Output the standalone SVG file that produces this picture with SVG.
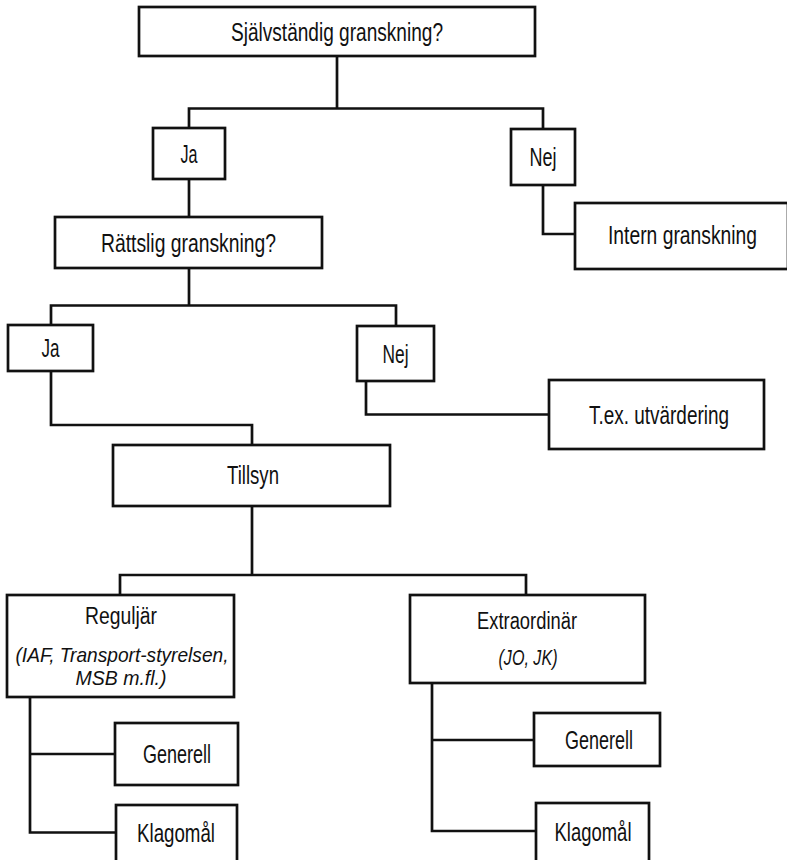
<svg xmlns="http://www.w3.org/2000/svg" width="787" height="860" viewBox="0 0 787 860">
<style>
.box{fill:#fff;stroke:#111;stroke-width:2.7}
.wire{fill:none;stroke:#111;stroke-width:2.7;stroke-linejoin:miter;stroke-linecap:square}
text{font-family:"Liberation Sans",Arial,sans-serif;font-size:26px;fill:#111;text-anchor:middle}
.sm{font-size:23px}
.it{font-style:italic;font-size:21px}
</style>
<rect width="787" height="860" fill="#fff"/>
<g id="connectors">
<path class="wire" d="M337,56 V108.5 M189,108.5 H543 M189,108.5 V128 M543,108.5 V129"/>
<path class="wire" d="M189,179 V217"/>
<path class="wire" d="M543,185 V234 H575"/>
<path class="wire" d="M189,268 V305.5 M51,305.5 H396 M51,305.5 V325 M396,305.5 V326"/>
<path class="wire" d="M51,371 V425 H252 V445"/>
<path class="wire" d="M366,381 V414.5 H549"/>
<path class="wire" d="M252,506 V575 M120,575 H526 M120,575 V595 M526,575 V595"/>
<path class="wire" d="M30,697 V832.5 M30,754 H115 M30,832.5 H116"/>
<path class="wire" d="M432,683 V831 M432,740 H534 M432,831 H536"/>
</g>
<g id="n-sjalvstandig">
<rect class="box" x="139" y="7" width="396" height="49"/>
<text x="337" y="40.5" textLength="212" lengthAdjust="spacingAndGlyphs">Självständig granskning?</text>
</g>
<g id="n-ja1">
<rect class="box" x="153" y="128" width="72" height="51"/>
<text x="189" y="162.8" textLength="17" lengthAdjust="spacingAndGlyphs">Ja</text>
</g>
<g id="n-nej1">
<rect class="box" x="511" y="129" width="64" height="56"/>
<text x="543" y="166.3" textLength="27" lengthAdjust="spacingAndGlyphs">Nej</text>
</g>
<g id="n-rattslig">
<rect class="box" x="55" y="217" width="267" height="51"/>
<text x="188.5" y="251.8" textLength="175" lengthAdjust="spacingAndGlyphs">Rättslig granskning?</text>
</g>
<g id="n-intern">
<rect class="box" x="575" y="203" width="213" height="66"/>
<text x="682.5" y="243.5" textLength="149" lengthAdjust="spacingAndGlyphs">Intern granskning</text>
</g>
<g id="n-ja2">
<rect class="box" x="8" y="325" width="85" height="46"/>
<text x="50.5" y="357.3" textLength="18" lengthAdjust="spacingAndGlyphs">Ja</text>
</g>
<g id="n-nej2">
<rect class="box" x="357" y="326" width="77" height="55"/>
<text x="395.5" y="362.8" textLength="26" lengthAdjust="spacingAndGlyphs">Nej</text>
</g>
<g id="n-tex">
<rect class="box" x="549" y="380" width="215" height="69"/>
<text x="659" y="423.8" textLength="140" lengthAdjust="spacingAndGlyphs">T.ex. utvärdering</text>
</g>
<g id="n-tillsyn">
<rect class="box" x="113" y="445" width="277" height="61"/>
<text x="253" y="484.3" textLength="52" lengthAdjust="spacingAndGlyphs">Tillsyn</text>
</g>
<g id="n-reguljar">
<rect class="box" x="7" y="595" width="227" height="102"/>
<text class="sm" x="121" y="624" textLength="72" lengthAdjust="spacingAndGlyphs">Reguljär</text>
<text class="it" x="122" y="661.5" textLength="213" lengthAdjust="spacingAndGlyphs">(IAF, Transport-styrelsen,</text>
<text class="it" x="121" y="685" textLength="91" lengthAdjust="spacingAndGlyphs">MSB m.fl.)</text>
</g>
<g id="n-extraordinar">
<rect class="box" x="410" y="595" width="235" height="88"/>
<text class="sm" x="527" y="628.5" textLength="100" lengthAdjust="spacingAndGlyphs">Extraordinär</text>
<text class="it" x="528" y="664.5" textLength="59" lengthAdjust="spacingAndGlyphs" style="font-size:22px">(JO, JK)</text>
</g>
<g id="n-generell-l">
<rect class="box" x="115" y="723" width="123" height="62"/>
<text x="177" y="763.3" textLength="68" lengthAdjust="spacingAndGlyphs">Generell</text>
</g>
<g id="n-klagomal-l">
<rect class="box" x="116" y="805" width="121" height="70"/>
<text x="176" y="841.7" textLength="78" lengthAdjust="spacingAndGlyphs">Klagomål</text>
</g>
<g id="n-generell-r">
<rect class="box" x="534" y="713" width="126" height="53"/>
<text x="599" y="748.8" textLength="68" lengthAdjust="spacingAndGlyphs">Generell</text>
</g>
<g id="n-klagomal-r">
<rect class="box" x="536" y="803" width="113" height="70"/>
<text x="593" y="841" textLength="77" lengthAdjust="spacingAndGlyphs">Klagomål</text>
</g>
</svg>
